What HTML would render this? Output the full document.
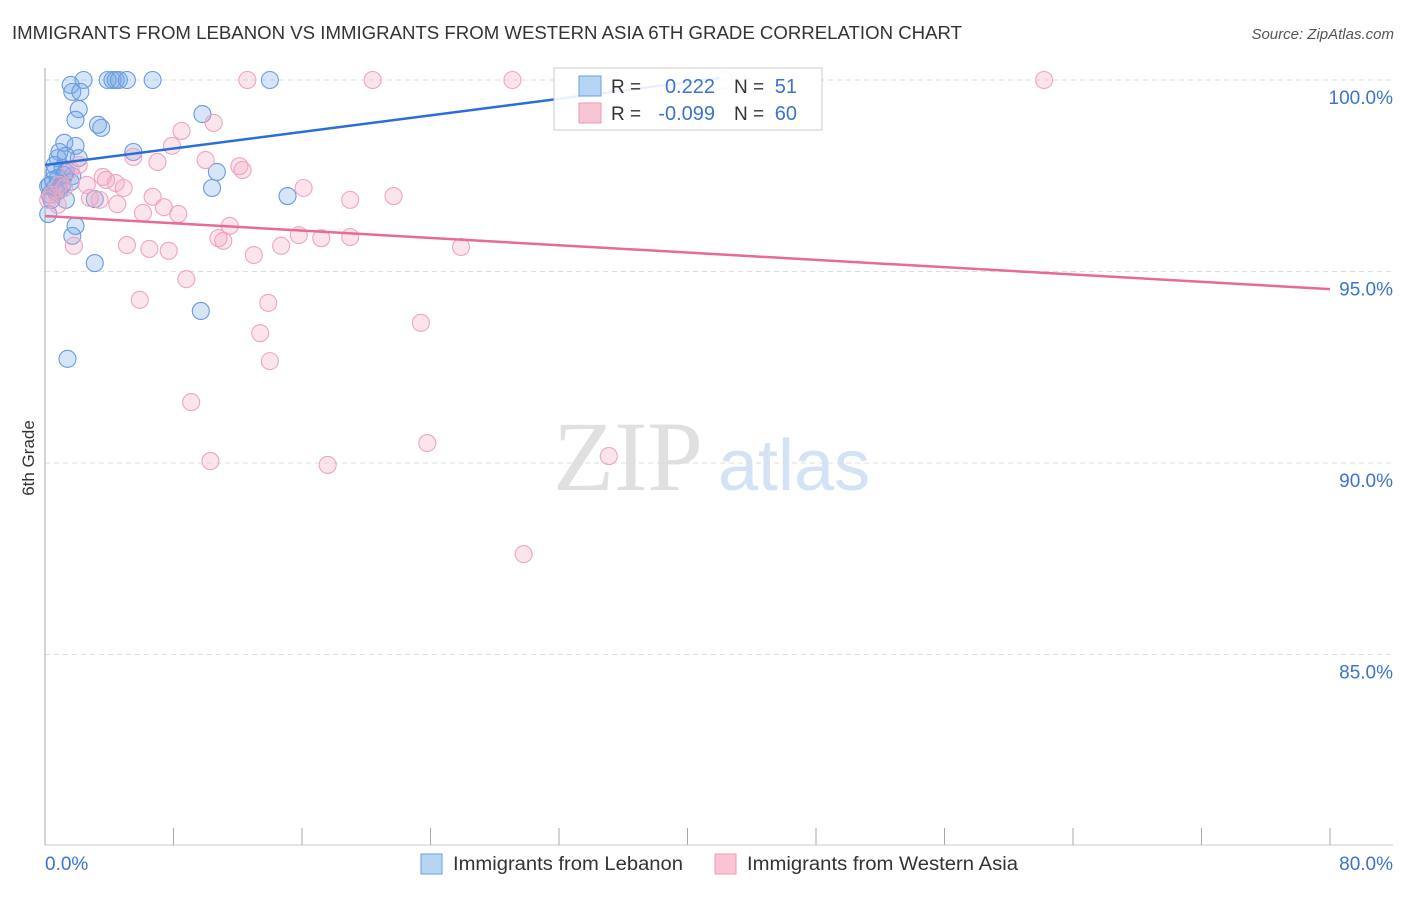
<!DOCTYPE html>
<html><head><meta charset="utf-8"><style>
body{margin:0;background:#fff;font-family:"Liberation Sans",sans-serif}
svg text{font-family:"Liberation Sans",sans-serif}
</style></head><body>
<svg id="c" width="1406" height="892">
<text x="12" y="39" font-size="18" fill="#333" textLength="950" lengthAdjust="spacingAndGlyphs">IMMIGRANTS FROM LEBANON VS IMMIGRANTS FROM WESTERN ASIA 6TH GRADE CORRELATION CHART</text>
<text x="1394" y="39" font-size="15" fill="#555" font-style="italic" text-anchor="end">Source: ZipAtlas.com</text>
<text x="34" y="458" font-size="17" fill="#333" transform="rotate(-90 34 458)" text-anchor="middle">6th Grade</text>
<text x="553" y="490" font-size="100" fill="#e0e0e0" font-family="Liberation Serif" style="font-family:'Liberation Serif',serif">ZIP</text>
<text x="718" y="490" font-size="72" fill="#d3e2f4">atlas</text>
<g id="grid"></g><g id="pts"></g><g id="lines"></g>
<g>
<rect x="554" y="68" width="268" height="62" fill="#fff" fill-opacity="0.9" stroke="#ccc"/>
<rect x="579" y="76" width="22" height="20" fill="#b8d4f5" stroke="#6a9ee0"/>
<rect x="579" y="103" width="22" height="20" fill="#f9c4d4" stroke="#ef9ab5"/>
<text x="611" y="93" font-size="19" fill="#333">R =</text>
<text x="715" y="93" font-size="20" fill="#3a74d0" text-anchor="end">0.222</text>
<text x="734" y="93" font-size="19" fill="#333">N =</text>
<text x="797" y="93" font-size="20" fill="#3a74d0" text-anchor="end">51</text>
<text x="611" y="120" font-size="19" fill="#333">R =</text>
<text x="715" y="120" font-size="20" fill="#3a74d0" text-anchor="end">-0.099</text>
<text x="734" y="120" font-size="19" fill="#333">N =</text>
<text x="797" y="120" font-size="20" fill="#3a74d0" text-anchor="end">60</text>
</g>
<text x="45" y="870" font-size="19" fill="#3a74d0">0.0%</text>
<text x="1393" y="870" font-size="19" fill="#3a74d0" text-anchor="end">80.0%</text>
<rect x="421" y="854" width="21" height="20" fill="#b8d4f5" stroke="#6a9ee0"/>
<text x="453" y="870" font-size="19" fill="#333" textLength="230" lengthAdjust="spacingAndGlyphs">Immigrants from Lebanon</text>
<rect x="715" y="854" width="21" height="20" fill="#f9c4d4" stroke="#ef9ab5"/>
<text x="747" y="870" font-size="19" fill="#333" textLength="271" lengthAdjust="spacingAndGlyphs">Immigrants from Western Asia</text>
</svg>
<script>
const yTicks=[100,95,90,85];
const blueX=[1.6,2.4,1.7,2.2,3.9,4.2,4.4,4.6,5.1,6.7,14.0,2.1,1.9,3.3,3.5,9.8,5.5,1.2,1.9,0.9,0.8,1.3,2.1,0.6,1.1,0.6,1.3,0.3,0.6,0.9,0.2,1.7,0.4,1.3,0.2,1.9,1.7,3.1,10.4,10.7,15.1,3.1,9.7,1.4,0.5,0.8,1.1,0.7,1.6,0.3,1.2];
const blueY=[99.87,100,99.69,99.69,100,100,100,100,100,100,100,99.24,98.96,98.83,98.75,99.11,98.12,98.36,98.28,98.12,97.96,98.02,97.96,97.78,97.70,97.60,97.60,97.26,97.18,97.13,97.23,97.49,96.87,96.87,96.50,96.19,95.93,96.89,97.18,97.60,96.97,95.22,93.97,92.72,97.39,97.44,97.28,97.08,97.34,97.00,97.52];
const pinkX=[12.6,20.4,29.1,42.3,62.2,8.5,10.5,7.9,5.5,7.0,10.0,12.1,12.3,2.1,3.6,4.4,3.8,4.9,2.6,6.7,7.4,4.5,3.4,6.1,8.3,11.5,10.8,11.1,13.0,14.7,15.8,17.2,19.0,16.1,19.0,21.7,25.9,5.1,6.5,7.7,1.8,8.8,5.9,13.9,13.4,14.0,23.4,9.1,10.3,17.6,23.8,35.1,29.8,0.9,0.4,1.2,0.2,1.6,2.8,0.8];
const pinkY=[100,100,100,100,100,98.67,98.88,98.28,97.99,97.86,97.91,97.75,97.65,97.78,97.47,97.31,97.39,97.18,97.26,96.95,96.68,96.76,96.87,96.53,96.50,96.19,95.87,95.80,95.43,95.67,95.95,95.87,95.90,97.18,96.87,96.97,95.64,95.69,95.59,95.54,95.67,94.80,94.26,94.18,93.39,92.66,93.66,91.59,90.05,89.95,90.52,90.18,87.62,97.26,97.00,97.18,96.87,97.65,96.92,96.74];
const blueTrend=[[0,97.78],[42,100.05]];
const pinkTrend=[[0,96.45],[80,94.54]];
const NS='http://www.w3.org/2000/svg';
const sx=v=>45+v/80*1285;
const sy=v=>80+(100-v)*38.3;
function mk(tag,attrs,parent){const e=document.createElementNS(NS,tag);for(const k in attrs)e.setAttribute(k,attrs[k]);parent.appendChild(e);return e;}
const grid=document.getElementById('grid');
yTicks.forEach(t=>{
  const l=mk('line',{x1:45,x2:1393,y1:sy(t),y2:sy(t),stroke:'#ddd','stroke-dasharray':'5,4'},grid);
  
  
  const tx=mk('text',{x:1393,y:sy(t)+24,'font-size':19,fill:'#3a74d0','text-anchor':'end'},grid);
  tx.textContent=t.toFixed(1)+'%';
  
  
});
const ax=mk('line',{x1:45,x2:45,y1:68,y2:845,stroke:'#aaa'},grid);


const bx=mk('line',{x1:45,x2:1393,y1:845,y2:845,stroke:'#ccc'},grid);


for(let i=0;i<=10;i++){
  const tk=mk('line',{x1:sx(i*8),x2:sx(i*8),y1:828,y2:845,stroke:'#aaa'},grid);
  
  
}
const pts=document.getElementById('pts');
blueX.forEach((x,i)=>{
  const c=mk('circle',{cx:sx(x),cy:sy(blueY[i]),r:8.5,fill:'rgba(120,170,230,0.3)',stroke:'#6a9ae0','stroke-width':1.1},pts);
  
  
});
pinkX.forEach((x,i)=>{
  const c=mk('circle',{cx:sx(x),cy:sy(pinkY[i]),r:8.5,fill:'rgba(245,165,195,0.3)',stroke:'#eea5c0','stroke-width':1.1},pts);
  
  
});
const lines=document.getElementById('lines');
const bl=mk('line',{x1:sx(blueTrend[0][0]),y1:sy(blueTrend[0][1]),x2:sx(blueTrend[1][0]),y2:sy(blueTrend[1][1]),stroke:'#2a6fd6','stroke-width':2.5},lines);


const pl=mk('line',{x1:sx(pinkTrend[0][0]),y1:sy(pinkTrend[0][1]),x2:sx(pinkTrend[1][0]),y2:sy(pinkTrend[1][1]),stroke:'#e86a95','stroke-width':2.5},lines);


</script>
</body></html>
